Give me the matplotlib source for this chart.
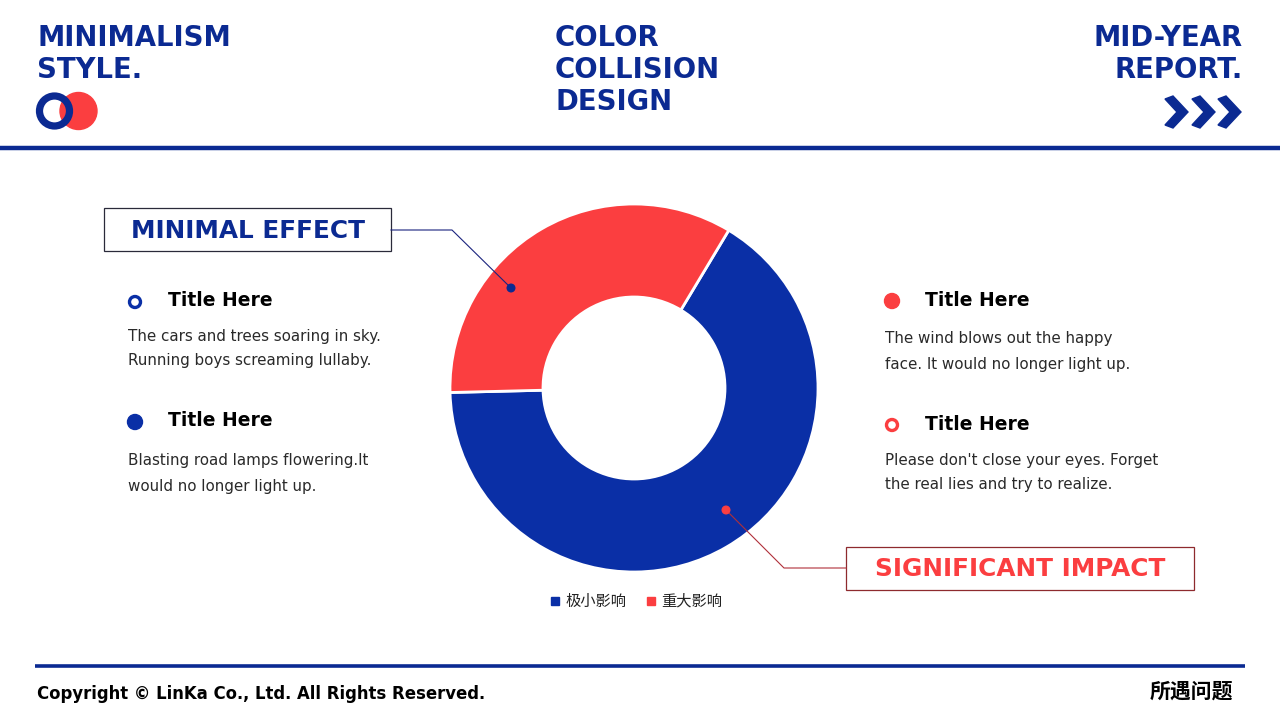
import matplotlib
matplotlib.use("Agg")
import matplotlib.pyplot as plt
from matplotlib.patches import Circle, Rectangle, Polygon

# ---- data ----
categories = ["极小影响", "重大影响"]
values = [66, 34]
callout_labels = ["MINIMAL EFFECT", "SIGNIFICANT IMPACT"]
header_left = ["MINIMALISM", "STYLE."]
header_mid = ["COLOR", "COLLISION", "DESIGN"]
header_right = ["MID-YEAR", "REPORT."]
item_titles = ["Title Here", "Title Here", "Title Here", "Title Here"]
item_bodies = [
    ["The cars and trees soaring in sky.", "Running boys screaming lullaby."],
    ["Blasting road lamps flowering.It", "would no longer light up."],
    ["The wind blows out the happy", "face. It would no longer light up."],
    ["Please don't close your eyes. Forget", "the real lies and try to realize."],
]
footer_left = "Copyright © LinKa Co., Ltd. All Rights Reserved."
footer_right = "所遇问题"

BLUE = "#0a2fa6"
DBLUE = "#0b2a92"
RED = "#fb3e40"

plt.rcParams['font.family'] = ['DejaVu Sans', 'Noto Sans CJK SC']

fig = plt.figure(figsize=(12.8, 7.2), dpi=100)
ax = fig.add_axes([0, 0, 1, 1])

def Y(y):
    return 720 - y

# ---- donut ----
cx, cy, R = 634, Y(388), 184
wedges, _ = ax.pie(values, colors=[BLUE, RED], startangle=59, counterclock=False,
                   center=(cx, cy), radius=R,
                   wedgeprops=dict(width=93, edgecolor='white', linewidth=2))
ax.set_xlim(0, 1280)
ax.set_ylim(0, 720)
ax.set_aspect('equal')
ax.axis('off')

# ---- header ----
hfont = dict(family='DejaVu Sans', fontweight='bold', color=DBLUE, fontsize=19.8)
for i, t in enumerate(header_left):
    ax.text(37, Y(46 + 32 * i), t, ha='left', va='baseline', **hfont)
for i, t in enumerate(header_mid):
    ax.text(555, Y(46 + 32 * i), t, ha='left', va='baseline', **hfont)
for i, t in enumerate(header_right):
    ax.text(1243, Y(46 + 32 * i), t, ha='right', va='baseline', **hfont)

# logo circles
ax.add_patch(Circle((78.5, Y(111)), 18.5, color=RED, zorder=3))
ax.add_patch(Circle((54.5, Y(111)), 15, fill=False, edgecolor=DBLUE, linewidth=5.2, zorder=4))

# chevrons
for x0 in [1164, 1191, 1217]:
    pts = [(x0 + 1, Y(99)), (x0 + 9, Y(96)), (x0 + 24, Y(112)), (x0 + 9, Y(128)),
           (x0 + 1, Y(125)), (x0 + 13, Y(112))]
    ax.add_patch(Polygon(pts, closed=True, color=DBLUE, zorder=3))

# header / footer lines
ax.plot([0, 1280], [Y(148), Y(148)], color=DBLUE, linewidth=3.2, solid_capstyle='butt')
ax.plot([35, 1245], [Y(665.5), Y(665.5)], color=DBLUE, linewidth=2.6, solid_capstyle='butt')

# ---- callouts ----
ax.add_patch(Rectangle((104, Y(251)), 287, 43, fill=False, edgecolor='#2a2a3a', linewidth=0.9))
ax.text(248, Y(231), callout_labels[0], ha='center', va='center', color=DBLUE,
        fontsize=17.8, fontweight='bold', family='DejaVu Sans')
ax.plot([391, 452, 511], [Y(230), Y(230), Y(288)], color='#1a237e', linewidth=0.8)
ax.add_patch(Circle((511, Y(288)), 3.8, color=DBLUE, zorder=5))

ax.add_patch(Rectangle((846, Y(590)), 348, 43, fill=False, edgecolor='#8e2a2e', linewidth=0.9))
ax.text(1020, Y(569), callout_labels[1], ha='center', va='center', color=RED,
        fontsize=17.8, fontweight='bold', family='DejaVu Sans')
ax.plot([846, 784, 726], [Y(568), Y(568), Y(510)], color='#b0303a', linewidth=0.8)
ax.add_patch(Circle((726, Y(510)), 3.8, color=RED, zorder=5))

# ---- text items ----
items = [
    (135, 168, 128, 301, 336, BLUE, False),
    (135, 168, 128, 421, 461, BLUE, True),
    (892, 925, 885, 300, 339, RED, True),
    (892, 925, 885, 424, 460, RED, False),
]
for k, (mx, tx, bx, ty, by, col, filled) in enumerate(items):
    if filled:
        ax.add_patch(Circle((mx, Y(ty + 1)), 7.5, color=col, zorder=4))
    else:
        ax.add_patch(Circle((mx, Y(ty + 1)), 5.5, fill=False, edgecolor=col, linewidth=2.4, zorder=4))
    ax.text(tx, Y(ty), item_titles[k], ha='left', va='center', fontsize=13.5,
            fontweight='bold', color='black', family='DejaVu Sans')
    for j, line in enumerate(item_bodies[k]):
        ax.text(bx, Y(by + 25 * j), line, ha='left', va='center', fontsize=10.9,
                color='#2a2a2a', family='DejaVu Sans')

# ---- legend ----
legend_pos = [555, 651]
for x, c, lab in zip(legend_pos, [BLUE, RED], categories):
    ax.add_patch(Rectangle((x - 4, Y(605)), 8, 8, color=c))
    ax.text(x + 10, Y(601), lab, ha='left', va='center', fontsize=11,
            family=['Noto Sans CJK SC', 'DejaVu Sans'], color='#222222')

# ---- footer ----
ax.text(37, Y(694), footer_left, ha='left', va='center', fontsize=11.9,
        fontweight='bold', color='black', family='DejaVu Sans')
ax.text(1233, Y(691), footer_right, ha='right', va='center', fontsize=15,
        fontweight='bold', color='black', family=['Noto Sans CJK SC', 'DejaVu Sans'])

fig.savefig("out.png", dpi=100)
